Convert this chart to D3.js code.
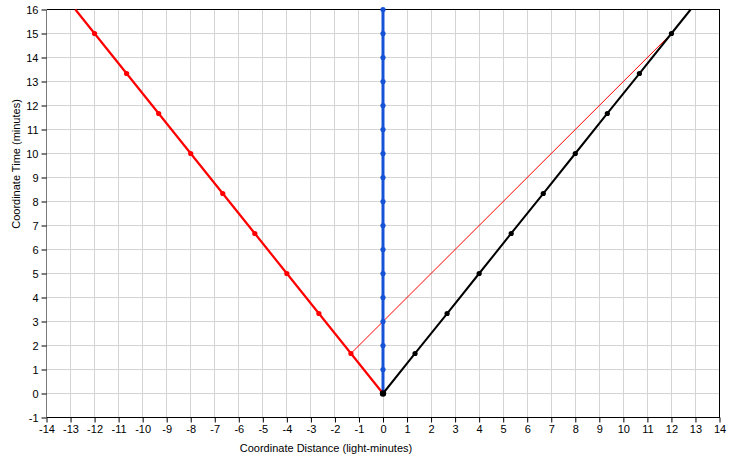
<!DOCTYPE html>
<html><head><meta charset="utf-8">
<script src="https://cdn.jsdelivr.net/npm/d3@7"></script>
<style>body{margin:0;background:#fff}</style>
</head><body>
<svg id="c" width="733" height="457"></svg>
<script>
const xTicks = d3.range(-14, 15);
const yTicks = d3.range(-1, 17);
const redT = [0, 1.667, 3.333, 5, 6.667, 8.333, 10, 11.667, 13.333, 15];
const redX = [0, -1.333, -2.667, -4, -5.333, -6.667, -8, -9.333, -10.667, -12];
const redEnd = [-12.8, 16];
const blackT = [0, 1.667, 3.333, 5, 6.667, 8.333, 10, 11.667, 13.333, 15];
const blackX = [0, 1.333, 2.667, 4, 5.333, 6.667, 8, 9.333, 10.667, 12];
const blackEnd = [12.8, 16];
const blueT = d3.range(0, 17);
const blueX = blueT.map(() => 0);
const lightX = [-1.333, 12];
const lightT = [1.667, 15];

const svg = d3.select("#c");
const L = 46.5, R = 719.5, T = 9.5, B = 417.5;
const x = d3.scaleLinear().domain([-14, 14]).range([L, R]);
const y = d3.scaleLinear().domain([-1, 16]).range([B, T]);
const font = "'Liberation Sans', Arial, sans-serif";

// grid
svg.append("g").selectAll("line").data(xTicks.slice(1, -1)).join("line")
  .attr("x1", d => x(d)).attr("x2", d => x(d)).attr("y1", T).attr("y2", B)
  .attr("stroke", "#d4d4d4").attr("stroke-width", 1).attr("shape-rendering","crispEdges");
svg.append("g").selectAll("line").data(yTicks.slice(1, -1)).join("line")
  .attr("y1", d => y(d)).attr("y2", d => y(d)).attr("x1", L).attr("x2", R)
  .attr("stroke", "#d4d4d4").attr("stroke-width", 1).attr("shape-rendering","crispEdges");

// frame
svg.append("line").attr("x1", L).attr("x2", R).attr("y1", T).attr("y2", T).attr("stroke", "#000").attr("shape-rendering","crispEdges");
svg.append("line").attr("x1", R).attr("x2", R).attr("y1", T).attr("y2", B).attr("stroke", "#000").attr("shape-rendering","crispEdges");

// axes
const gx = svg.append("g").attr("transform", `translate(0,${B})`)
  .call(d3.axisBottom(x).tickValues(xTicks).tickSize(5).tickPadding(3).tickFormat(d3.format("d")));
const gy = svg.append("g").attr("transform", `translate(${L},0)`)
  .call(d3.axisLeft(y).tickValues(yTicks).tickSize(5).tickPadding(3).tickFormat(d3.format("d")));
gx.select(".domain").attr("stroke", "#000").attr("d", `M${L},0H${R}`);
gy.select(".domain").attr("stroke", "#7a7a7a").attr("d", `M0,${T}V${B}`);
[gx, gy].forEach(g => {
  g.selectAll("text").attr("font-family", font).attr("font-size", 11).attr("fill", "#000")
    .text(function(){ return this.textContent.replace("\u2212", "-"); });
  g.selectAll(".tick line").attr("stroke", "#000");
});

// titles
svg.append("text").attr("x", 326).attr("y", 452).attr("text-anchor", "middle")
  .attr("font-family", font).attr("font-size", 11).text("Coordinate Distance (light-minutes)");
svg.append("text").attr("transform", "translate(20,164) rotate(-90)").attr("text-anchor", "middle")
  .attr("font-family", font).attr("font-size", 11).text("Coordinate Time (minutes)");

const line = d3.line().x(d => x(d[0])).y(d => y(d[1]));
const plot = svg.append("g");

// light line
plot.append("path").datum(lightX.map((v, i) => [v, lightT[i]])).attr("d", line)
  .attr("fill", "none").attr("stroke", "#ff0000").attr("stroke-width", 1);

// blue
const blue = blueX.map((v, i) => [v, blueT[i]]);
plot.append("path").datum(blue).attr("d", line).attr("fill", "none").attr("stroke", "#1652d8").attr("stroke-width", 3);
plot.append("g").selectAll("circle").data(blue).join("circle")
  .attr("cx", d => x(d[0])).attr("cy", d => y(d[1])).attr("r", 2.6).attr("fill", "#1652d8");

// red
const red = redX.map((v, i) => [v, redT[i]]);
plot.append("path").datum(red.concat([redEnd])).attr("d", line).attr("fill", "none").attr("stroke", "#ff0000").attr("stroke-width", 2.2);
plot.append("g").selectAll("circle").data(red).join("circle")
  .attr("cx", d => x(d[0])).attr("cy", d => y(d[1])).attr("r", 2.6).attr("fill", "#ff0000");

// black
const black = blackX.map((v, i) => [v, blackT[i]]);
plot.append("path").datum(black.concat([blackEnd])).attr("d", line).attr("fill", "none").attr("stroke", "#000").attr("stroke-width", 2);
plot.append("g").selectAll("circle").data(black).join("circle")
  .attr("cx", d => x(d[0])).attr("cy", d => y(d[1])).attr("r", (d, i) => i === 0 ? 3.2 : 2.6).attr("fill", "#000");
</script>
</body></html>
